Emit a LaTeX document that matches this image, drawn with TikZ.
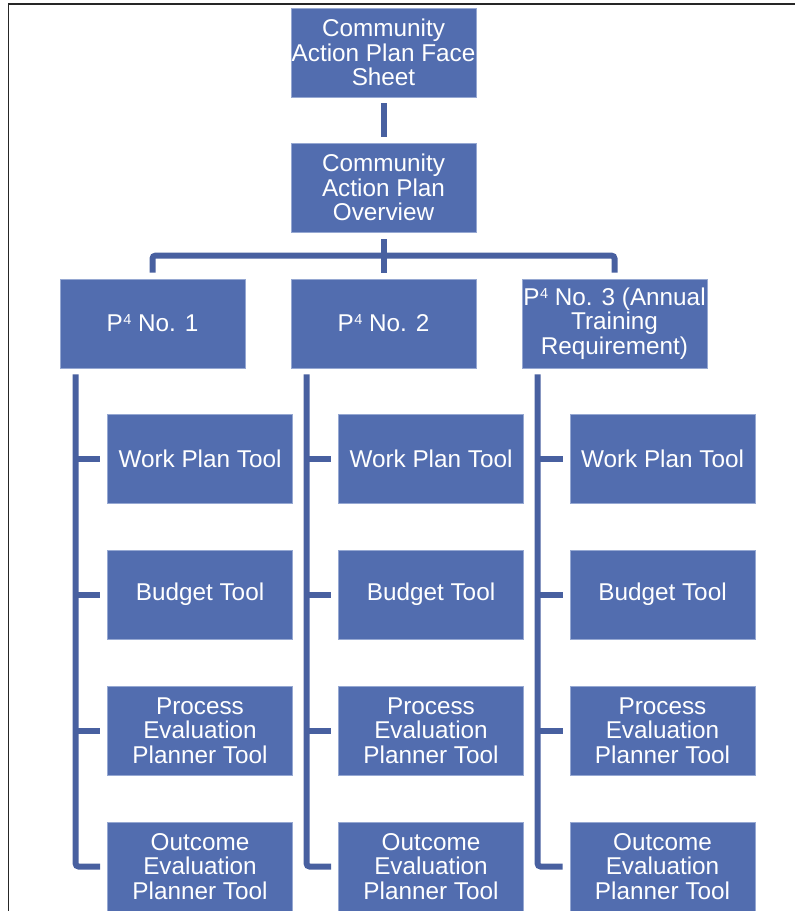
\documentclass[tikz,border=0pt]{standalone}
\usepackage{fontspec}
\setmainfont{Liberation Sans}
\definecolor{boxfill}{RGB}{82,109,175}
\definecolor{boxedge}{RGB}{150,168,210}
\definecolor{connc}{RGB}{72,96,160}
\newcommand\pfour{P\kern0.5pt\raisebox{7pt}{\fontsize{14.5}{14.5}\selectfont 4}}
\begin{document}
\begin{tikzpicture}[x=1pt,y=-1pt,
  box/.style={rectangle, fill=boxfill, draw=boxedge, line width=0.8pt,
    minimum width=185pt, minimum height=89pt, inner sep=0pt, align=center,
    text=white, font=\fontsize{24.3}{24.4}\selectfont},
  conn/.style={draw=connc, line width=6pt, rounded corners=3pt}]
\useasboundingbox (0,0) rectangle (795,911);
\draw[line width=1.4pt, black!85] (8.5,911) -- (8.5,4) -- (795,4);

\node[box] (top) at (383.5,52.5) {Community\\Action Plan Face\\Sheet};
\node[box] (ov) at (383.5,187.5) {Community\\Action Plan\\Overview};

\node[box] (p1) at (152.5,323.5) {\pfour{} No. 1};
\node[box] (p2) at (383.5,323.5) {\pfour{} No. 2};
\node[box] (p3) at (614.5,323.5) {\pfour{} No. 3 (Annual\\Training\\Requirement)};

\foreach \c/\x in {1/200,2/431,3/662.5}{
  \node[box] (c\c1) at (\x,459) {Work Plan Tool};
  \node[box] (c\c2) at (\x,594.5) {Budget Tool};
  \node[box] (c\c3) at (\x,730.5) {Process\\Evaluation\\Planner Tool};
  \node[box] (c\c4) at (\x,866.5) {Outcome\\Evaluation\\Planner Tool};
}

\draw[conn] ([yshift=-6pt]top.south) -- ([yshift=6pt]ov.north);
\draw[conn] ([yshift=-7pt]ov.south) -- ([yshift=6pt]p2.north);
\draw[conn] ([yshift=6pt]p1.north) -- ([yshift=23pt]p1.north) -| ([yshift=6pt]p3.north);

\foreach \c in {1,2,3}{
  \coordinate (l\c) at ([xshift=16pt,yshift=-6pt]p\c.south west);
  \draw[conn] (l\c) |- ([xshift=-7pt]c\c4.west);
  \foreach \r in {1,2,3}{
    \draw[conn] (l\c |- c\c\r.west) -- ([xshift=-7pt]c\c\r.west);
  }
}
\end{tikzpicture}
\end{document}
